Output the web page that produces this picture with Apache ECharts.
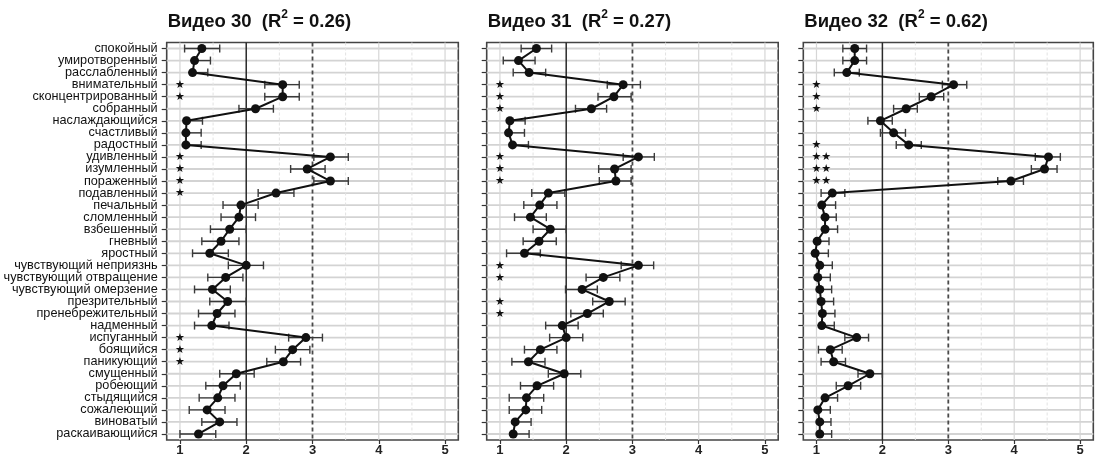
<!DOCTYPE html>
<html>
<head>
<meta charset="utf-8">
<script src="https://cdn.jsdelivr.net/npm/echarts@6/dist/echarts.min.js"></script>
<style>html,body{margin:0;padding:0;background:#fff}#chart{width:1095px;height:459px}</style>
</head>
<body>
<div id="chart"></div>
<script>
// ---- data ----
const categories = ['спокойный','умиротворенный','расслабленный','внимательный','сконцентрированный','собранный','наслаждающийся','счастливый','радостный','удивленный','изумленный','пораженный','подавленный','печальный','сломленный','взбешенный','гневный','яростный','чувствующий неприязнь','чувствующий отвращение','чувствующий омерзение','презрительный','пренебрежительный','надменный','испуганный','боящийся','паникующий','смущенный','робеющий','стыдящийся','сожалеющий','виноватый','раскаивающийся'];

const titles = ['Видео 30', 'Видео 31', 'Видео 32'];
const r2 = ['0.26', '0.27', '0.62'];
const xTicks = [1, 2, 3, 4, 5];
const xGridMajor = [1, 4, 5];
const xGridMinor = [1.5, 2.5, 3.5, 4.5];
const refSolid = [2];
const refDashed = [3];

const mean30 = [1.33,1.22,1.19,2.55,2.55,2.14,1.10,1.09,1.09,3.27,2.92,3.27,2.45,1.92,1.89,1.75,1.62,1.45,2.00,1.69,1.49,1.72,1.56,1.48,2.90,2.70,2.56,1.85,1.65,1.57,1.41,1.60,1.28];
const lo30   = [1.07,1.22,1.19,2.28,2.28,1.89,1.10,1.09,1.09,3.02,2.67,3.02,2.18,1.65,1.62,1.46,1.33,1.19,1.73,1.42,1.22,1.45,1.28,1.22,2.64,2.44,2.31,1.60,1.39,1.29,1.14,1.33,1.00];
const hi30   = [1.60,1.46,1.42,2.80,2.80,2.41,1.34,1.32,1.32,3.54,3.19,3.54,2.72,2.18,2.14,2.00,1.89,1.73,2.26,1.95,1.76,2.00,1.83,1.74,3.15,2.96,2.82,2.12,1.91,1.83,1.68,1.86,1.54];
const stars30 = ['','','','*','*','','','','','*','*','*','*','','','','','','','','','','','','*','*','*','','','','','',''];

const mean31 = [1.55,1.28,1.44,2.86,2.72,2.38,1.15,1.13,1.19,3.09,2.73,2.75,1.73,1.60,1.46,1.76,1.59,1.37,3.09,2.56,2.24,2.65,2.32,1.94,2.00,1.61,1.43,1.97,1.56,1.40,1.39,1.23,1.20];
const lo31   = [1.32,1.05,1.20,2.62,2.48,2.14,1.15,1.13,1.19,2.86,2.49,2.50,1.48,1.36,1.22,1.50,1.35,1.10,2.83,2.30,1.99,2.40,2.07,1.69,1.75,1.37,1.18,1.73,1.31,1.14,1.14,1.23,1.20];
const hi31   = [1.78,1.53,1.69,3.12,2.98,2.61,1.38,1.37,1.43,3.33,2.98,2.98,1.98,1.86,1.70,2.00,1.85,1.61,3.32,2.81,2.47,2.89,2.56,2.18,2.25,1.86,1.68,2.22,1.81,1.66,1.63,1.47,1.44];
const stars31 = ['','','','*','*','*','','','','*','*','*','','','','','','','*','*','','*','*','','','','','','','','','',''];

const mean32 = [1.58,1.58,1.46,3.08,2.74,2.36,1.97,2.17,2.40,4.52,4.46,3.95,1.24,1.08,1.13,1.13,1.01,0.98,1.05,1.02,1.05,1.07,1.09,1.08,1.61,1.21,1.26,1.81,1.48,1.13,1.02,1.05,1.05];
const lo32   = [1.40,1.40,1.27,2.91,2.56,2.17,1.78,1.97,2.21,4.32,4.26,3.75,1.07,1.08,1.13,1.13,1.01,0.98,1.05,1.02,1.05,1.07,1.09,1.08,1.43,1.03,1.07,1.63,1.30,1.13,1.02,1.05,1.05];
const hi32   = [1.76,1.76,1.65,3.28,2.93,2.53,2.15,2.35,2.59,4.70,4.65,4.14,1.43,1.29,1.30,1.32,1.19,1.18,1.24,1.21,1.23,1.26,1.28,1.27,1.79,1.39,1.44,2.00,1.67,1.32,1.21,1.22,1.23];
const stars32 = ['','','','*','*','*','','','*','**','**','**','','','','','','','','','','','','','','','','','','','','',''];

const means = [mean30, mean31, mean32];
const los = [lo30, lo31, lo32];
const his = [hi30, hi31, hi32];
const stars = [stars30, stars31, stars32];

// ---- layout ----
const gridLefts = [166.7, 486.7, 803.3];
const gridWidths = [291.6, 291.5, 290];
const TOP = 42.5, HEIGHT = 397.5;
const FONT = '"Liberation Sans", Arial, sans-serif';

const chart = echarts.init(document.getElementById('chart'), null, {renderer: 'canvas'});

function hGridItem(params, api) {
  const cs = params.coordSys;
  const y = api.coord([1, api.value(1)])[1];
  return {type: 'line', silent: true,
    shape: {x1: cs.x, y1: y, x2: cs.x + cs.width, y2: y},
    style: {stroke: '#d3d3d3', lineWidth: 1.8}};
}
function vLineMaker(color, width, dash) {
  return function (params, api) {
    const cs = params.coordSys;
    const x = api.coord([api.value(0), 0])[0];
    return {type: 'line', silent: true,
      shape: {x1: x, y1: cs.y, x2: x, y2: cs.y + cs.height},
      style: {stroke: color, lineWidth: width, lineDash: dash || null}};
  };
}
function errItem(params, api) {
  const lo = api.value(0), cat = api.value(1), hi = api.value(2), m = api.value(3);
  const pl = api.coord([lo, cat]);
  const ph = api.coord([hi, cat]);
  const h = 4;
  const st = {stroke: '#3a3a3a', lineWidth: 1.4};
  const ch = [
    {type: 'line', shape: {x1: pl[0], y1: pl[1], x2: ph[0], y2: ph[1]}, style: st},
    {type: 'line', shape: {x1: ph[0], y1: ph[1] - h, x2: ph[0], y2: ph[1] + h}, style: st}
  ];
  if (lo < m - 0.001) {
    ch.push({type: 'line', shape: {x1: pl[0], y1: pl[1] - h, x2: pl[0], y2: pl[1] + h}, style: st});
  }
  return {type: 'group', silent: true, children: ch};
}
function starItem(params, api) {
  const p = api.coord([api.value(0), api.value(1)]);
  const txt = starData[params.seriesIndex][params.dataIndex][2];
  return {type: 'text', silent: true, x: p[0] - 5, y: p[1] + 0.5,
    style: {text: txt.replace(/\*/g, '★'), fill: '#111', font: '11px "DejaVu Sans", sans-serif',
      textAlign: 'left', textVerticalAlign: 'middle'}};
}

const grids = [], xAxes = [], yAxes = [], series = [], titleArr = [];
const starData = {};
for (let p = 0; p < 3; p++) {
  grids.push({left: gridLefts[p], top: TOP, width: gridWidths[p], height: HEIGHT,
    outerBoundsMode: 'none',
    show: true, borderColor: '#444', borderWidth: 1.6, backgroundColor: 'transparent', containLabel: false});
  xAxes.push({type: 'value', gridIndex: p, min: 0.8, max: 5.2,
    axisLine: {show: false},
    splitLine: {show: false},
    axisTick: {show: true, length: 4, lineStyle: {color: '#333', width: 1.2}, customValues: xTicks},
    axisLabel: {customValues: xTicks, margin: 4, fontSize: 13, fontWeight: 'bold', color: '#222', fontFamily: FONT}
  });
  yAxes.push({type: 'category', gridIndex: p, data: categories, inverse: true,
    axisLine: {show: false},
    splitLine: {show: false},
    axisTick: {show: true, alignWithLabel: true, interval: 0, length: 5, lineStyle: {color: '#333', width: 1.2}},
    axisLabel: {show: p === 0, interval: 0, margin: 9, fontSize: 12.7, color: '#111', fontFamily: FONT}
  });
  titleArr.push({
    left: gridLefts[p] - 4, top: 4,
    text: titles[p] + '  (R{s|2} = ' + r2[p] + ')',
    textStyle: {fontSize: 18.5, fontWeight: 'bold', color: '#111', fontFamily: FONT, lineHeight: 26,
      rich: {s: {fontSize: 12, fontWeight: 'bold', color: '#111', fontFamily: FONT, verticalAlign: 'top', lineHeight: 14}}}
  });

  series.push({type: 'custom', xAxisIndex: p, yAxisIndex: p, z: 1, silent: true,
    renderItem: hGridItem, data: categories.map(c => [1, c])});
  series.push({type: 'custom', xAxisIndex: p, yAxisIndex: p, z: 1, silent: true,
    renderItem: vLineMaker('#d6d6d6', 1.2), data: xGridMajor.map(v => [v, categories[0]])});
  series.push({type: 'custom', xAxisIndex: p, yAxisIndex: p, z: 1, silent: true,
    renderItem: vLineMaker('#e2e2e2', 1, [3, 2]), data: xGridMinor.map(v => [v, categories[0]])});
  series.push({type: 'custom', xAxisIndex: p, yAxisIndex: p, z: 2, silent: true,
    renderItem: vLineMaker('#2a2a2a', 1.5), data: refSolid.map(v => [v, categories[0]])});
  series.push({type: 'custom', xAxisIndex: p, yAxisIndex: p, z: 2, silent: true,
    renderItem: vLineMaker('#4a4a4a', 1.8, [4, 3]), data: refDashed.map(v => [v, categories[0]])});
  series.push({type: 'custom', xAxisIndex: p, yAxisIndex: p, z: 3, silent: true,
    renderItem: errItem,
    encode: {x: [0, 2, 3], y: 1},
    data: categories.map((c, i) => [los[p][i], c, his[p][i], means[p][i]])});
  series.push({type: 'line', xAxisIndex: p, yAxisIndex: p, z: 4, silent: true,
    symbol: 'circle', symbolSize: 9, showSymbol: true, showAllSymbol: true,
    lineStyle: {color: '#111', width: 2},
    itemStyle: {color: '#111'},
    data: categories.map((c, i) => [means[p][i], c])});
  const sd = categories.map((c, i) => [1, c, stars[p][i]]).filter(d => d[2] !== '');
  starData[series.length] = sd;
  series.push({type: 'custom', xAxisIndex: p, yAxisIndex: p, z: 5, silent: true,
    renderItem: starItem,
    data: sd.map(d => [d[0], d[1]])});
}

chart.setOption({
  animation: false,
  backgroundColor: '#fff',
  title: titleArr,
  grid: grids,
  xAxis: xAxes,
  yAxis: yAxes,
  series: series
});
</script>
</body>
</html>
